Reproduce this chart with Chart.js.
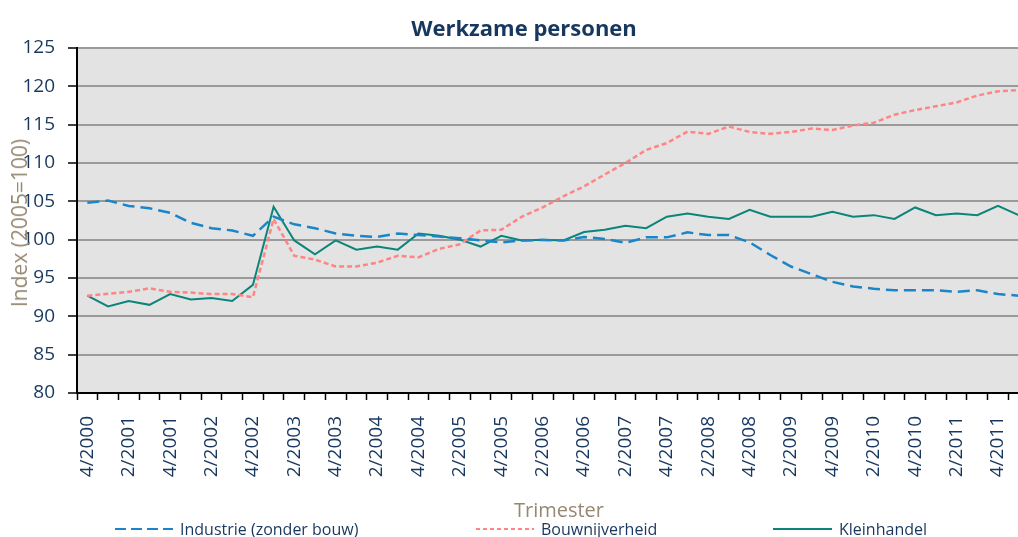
<!DOCTYPE html>
<html>
<head>
<meta charset="utf-8">
<script src="https://cdn.jsdelivr.net/npm/chart.js@4.4.1/dist/chart.umd.min.js"></script>
<style>
  html, body { margin: 0; padding: 0; background: #fff; overflow: hidden; }
  #wrap { position: relative; width: 1018px; height: 537px; overflow: hidden; font-family: "Open Sans", sans-serif; }
  #chart { position: absolute; left: 0; top: 0; }
  .title { position: absolute; left: 0; width: 1048px; top: 12px; text-align: center; font-weight: bold; font-size: 22px; color: #17375e; }
  .ytitle { position: absolute; left: 19px; top: 223px; transform: translate(-50%, -50%) rotate(-90deg); white-space: nowrap; font-size: 21px; color: #968872; }
  .xtitle { position: absolute; left: 559px; top: 509px; transform: translate(-50%, -50%); white-space: nowrap; font-size: 20px; color: #968872; }
  .leg { position: absolute; top: 519px; height: 20px; line-height: 20px; font-size: 16px; color: #17375e; white-space: nowrap; }
  .leg svg { position: absolute; top: 0; }
</style>
</head>
<body>
<div id="wrap">
  <canvas id="chart" width="1050" height="537"></canvas>
  <div class="title">Werkzame personen</div>
  <div class="ytitle">Index (2005=100)</div>
  <div class="xtitle">Trimester</div>
  <div class="leg" style="left:115px">
    <svg width="60" height="20"><line x1="0" y1="10" x2="58" y2="10" stroke="#1a86c8" stroke-width="2" stroke-dasharray="11 5"/></svg>
    <span style="position:absolute;left:65px">Industrie (zonder bouw)</span>
  </div>
  <div class="leg" style="left:476px">
    <svg width="60" height="20"><line x1="0" y1="10" x2="58" y2="10" stroke="#ff8585" stroke-width="2" stroke-dasharray="4 3"/></svg>
    <span style="position:absolute;left:65px">Bouwnijverheid</span>
  </div>
  <div class="leg" style="left:773px">
    <svg width="60" height="20"><line x1="0" y1="10" x2="59" y2="10" stroke="#0b857a" stroke-width="2"/></svg>
    <span style="position:absolute;left:66px">Kleinhandel</span>
  </div>
</div>
<script>
/* =========================
   DATA
========================= */
const quarters = [
  "4/2000",
  "1/2001", "2/2001", "3/2001", "4/2001",
  "1/2002", "2/2002", "3/2002", "4/2002",
  "1/2003", "2/2003", "3/2003", "4/2003",
  "1/2004", "2/2004", "3/2004", "4/2004",
  "1/2005", "2/2005", "3/2005", "4/2005",
  "1/2006", "2/2006", "3/2006", "4/2006",
  "1/2007", "2/2007", "3/2007", "4/2007",
  "1/2008", "2/2008", "3/2008", "4/2008",
  "1/2009", "2/2009", "3/2009", "4/2009",
  "1/2010", "2/2010", "3/2010", "4/2010",
  "1/2011", "2/2011", "3/2011", "4/2011",
  "1/2012"
];

const industrie = [
  104.8,
  105.1, 104.4, 104.1, 103.5,
  102.2, 101.5, 101.2, 100.5,
  103.0, 102.0, 101.5, 100.8,
  100.5, 100.35, 100.8, 100.6,
  100.4, 100.2, 99.9, 99.65,
  99.9, 99.95, 99.9, 100.35,
  100.1, 99.6, 100.3, 100.3,
  100.95, 100.6, 100.6, 99.65,
  98.0, 96.5, 95.5, 94.5,
  93.9, 93.6, 93.4, 93.4,
  93.4, 93.2, 93.4, 92.9,
  92.7
];

const bouwnijverheid = [
  92.7,
  92.95, 93.2, 93.65, 93.2,
  93.1, 92.9, 92.9, 92.5,
  102.7, 97.9, 97.4, 96.5,
  96.5, 97.0, 97.9, 97.7,
  98.8, 99.4, 101.2, 101.3,
  103.0, 104.2, 105.65, 106.95,
  108.5, 110.0, 111.7, 112.6,
  114.1, 113.8, 114.75, 114.05,
  113.8, 114.05, 114.5, 114.3,
  114.9, 115.25, 116.3, 116.9,
  117.4, 117.9, 118.8, 119.35,
  119.5
];

const kleinhandel = [
  92.7,
  91.3, 92.0, 91.5, 92.9,
  92.2, 92.4, 92.0, 94.1,
  104.3, 99.9, 98.1, 99.9,
  98.7, 99.1, 98.7, 100.8,
  100.5, 100.0, 99.1, 100.5,
  99.9, 100.0, 99.9, 101.0,
  101.3, 101.8, 101.5, 103.0,
  103.4, 103.0, 102.7, 103.9,
  103.0, 103.0, 103.0, 103.65,
  103.0, 103.2, 102.7, 104.2,
  103.2, 103.4, 103.2, 104.4,
  103.2
];

const yMin = 80;
const yMax = 125;
const yStep = 5;

/* =========================
   CHART
========================= */
const NAVY = "#17375e";
const tickFont = { family: "Open Sans", size: 19 };

const plotBackground = {
  id: "plotBackground",
  beforeDraw(chart) {
    const { ctx, chartArea } = chart;
    ctx.save();
    ctx.fillStyle = "#e3e3e3";
    ctx.fillRect(chartArea.left, chartArea.top, chartArea.right - chartArea.left, chartArea.bottom - chartArea.top);
    ctx.restore();
  }
};

new Chart(document.getElementById("chart"), {
  type: "line",
  data: {
    labels: quarters,
    datasets: [
      {
        label: "Industrie (zonder bouw)",
        data: industrie,
        borderColor: "#1a86c8",
        borderWidth: 2.5,
        borderDash: [12, 6],
        pointRadius: 0,
        tension: 0
      },
      {
        label: "Bouwnijverheid",
        data: bouwnijverheid,
        borderColor: "#ff8585",
        borderWidth: 2.5,
        borderDash: [5, 3],
        pointRadius: 0,
        tension: 0
      },
      {
        label: "Kleinhandel",
        data: kleinhandel,
        borderColor: "#0b857a",
        borderWidth: 2,
        pointRadius: 0,
        tension: 0
      }
    ]
  },
  options: {
    responsive: false,
    animation: false,
    layout: { padding: { top: 48, right: 21, left: 0, bottom: 0 } },
    plugins: {
      legend: { display: false },
      tooltip: { enabled: false }
    },
    scales: {
      x: {
        offset: true,
        grid: {
          offset: true,
          drawOnChartArea: false,
          drawTicks: true,
          tickLength: 7,
          tickColor: "#000",
          tickWidth: 1.5
        },
        border: { color: "#000", width: 2 },
        ticks: {
          autoSkip: false,
          minRotation: 90,
          maxRotation: 90,
          padding: 16,
          color: NAVY,
          font: tickFont,
          callback: function (v, i) {
            return i % 2 === 0 ? this.getLabelForValue(v) : "";
          }
        },
        // fixed axis height; drop the label overflow padding so the plot keeps its width
        afterFit: s => {
          s.height = 144;
          s.paddingLeft = 0;
          s.paddingRight = 0;
        }
      },
      y: {
        min: yMin,
        max: yMax,
        ticks: { stepSize: yStep, padding: 13, color: NAVY, font: tickFont },
        grid: {
          color: c => (c.tick && c.tick.value === yMin ? "rgba(0,0,0,0)" : "#9a9a9a"),
          lineWidth: 2,
          tickColor: "#000",
          tickLength: 9,
          tickWidth: 1.5
        },
        border: { color: "#000", width: 2 },
        afterFit: s => { s.width = 77; }
      }
    }
  },
  plugins: [plotBackground]
});
</script>
</body>
</html>
